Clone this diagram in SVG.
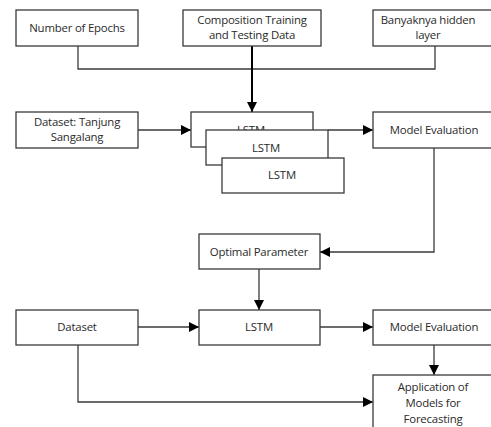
<svg xmlns="http://www.w3.org/2000/svg" width="491" height="427" viewBox="0 0 491 427">
<defs>
<style>
.box{fill:#fff;stroke:#3a3a3a;stroke-width:1.3}
.t{font-family:"Open Sans","Liberation Sans",sans-serif;font-size:11.4px;fill:#2a2a2a;text-anchor:middle;letter-spacing:-0.2px}
.c{fill:none;stroke:#3a3a3a;stroke-width:1.3}
</style>
<marker id="ah" viewBox="0 0 10 10" refX="10" refY="5" markerWidth="11" markerHeight="10" markerUnits="userSpaceOnUse" orient="auto">
<path d="M0,0 L10,5 L0,10 Z" fill="#000"/>
</marker>
</defs>
<rect width="491" height="427" fill="#fff"/>
<g id="connectors">
<path class="c" d="M78,46 V69 H435 V46"/>
<path class="c" d="M252,46 V112" style="stroke:#000;stroke-width:2" marker-end="url(#ah)"/>
<path class="c" d="M138,130 H191" marker-end="url(#ah)"/>
<path class="c" d="M328,130 H373" marker-end="url(#ah)"/>
<path class="c" d="M434,148 V252 H320" marker-end="url(#ah)"/>
<path class="c" d="M259,269 V310" marker-end="url(#ah)"/>
<path class="c" d="M138,327 H199" marker-end="url(#ah)"/>
<path class="c" d="M320,327 H373" marker-end="url(#ah)"/>
<path class="c" d="M434,345 V375" marker-end="url(#ah)"/>
<path class="c" d="M78,345 V402 H373" marker-end="url(#ah)"/>
</g>
<g id="epochs"><rect class="box" x="16" y="10" width="122" height="36"/><text class="t" x="77" y="32">Number of Epochs</text></g>
<g id="composition"><rect class="box" x="183" y="10" width="138" height="36"/><text class="t" x="252" y="24">Composition Training</text><text class="t" x="252" y="39">and Testing Data</text></g>
<g id="hidden"><rect class="box" x="373" y="10" width="124" height="36"/><text class="t" x="428" y="24">Banyaknya hidden</text><text class="t" x="428" y="39">layer</text></g>
<g id="dataset-tanjung"><rect class="box" x="16" y="112" width="122" height="36"/><text class="t" x="77" y="126">Dataset: Tanjung</text><text class="t" x="77" y="141">Sangalang</text></g>
<g id="lstm1"><rect class="box" x="191" y="112" width="122" height="35"/><text class="t" x="251" y="134">LSTM</text></g>
<g id="lstm2"><rect class="box" x="206" y="130" width="122" height="35"/><text class="t" x="266" y="152">LSTM</text></g>
<g id="lstm3"><rect class="box" x="222" y="158" width="122" height="35"/><text class="t" x="282" y="179">LSTM</text></g>
<g id="eval1"><rect class="box" x="373" y="112" width="124" height="36"/><text class="t" x="434" y="134">Model Evaluation</text></g>
<g id="optimal"><rect class="box" x="199" y="234" width="121" height="35"/><text class="t" x="259" y="256">Optimal Parameter</text></g>
<g id="dataset"><rect class="box" x="16" y="310" width="122" height="35"/><text class="t" x="77" y="331">Dataset</text></g>
<g id="lstm"><rect class="box" x="199" y="310" width="121" height="35"/><text class="t" x="259" y="331">LSTM</text></g>
<g id="eval2"><rect class="box" x="373" y="310" width="124" height="35"/><text class="t" x="434" y="331">Model Evaluation</text></g>
<g id="application"><rect class="box" x="373" y="375" width="124" height="60"/><text class="t" x="433" y="391">Application of</text><text class="t" x="433" y="407">Models for</text><text class="t" x="433" y="423">Forecasting</text></g>
</svg>
